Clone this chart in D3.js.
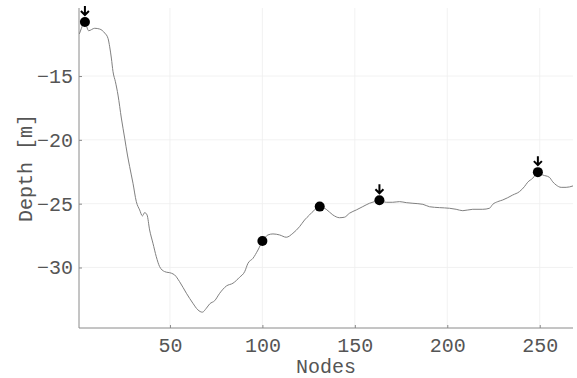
<!DOCTYPE html>
<html>
<head>
<meta charset="utf-8">
<script src="https://cdn.jsdelivr.net/npm/d3@7"></script>
<style>
  html, body { margin: 0; padding: 0; background: #fff; }
  svg text { font-family: "Liberation Mono", "DejaVu Sans Mono", monospace; }
</style>
</head>
<body>
<div id="chart"></div>
<script>
// depth profile along the nodes
const nodes = [1, 2, 3, 4, 6, 9.3, 12, 14.7, 16.5, 17.4, 18.3, 19.2, 20.5, 21.9, 23.7, 25.5, 27, 28.2, 30, 31.8,
  33.6, 35.1, 36.3, 37.6, 39, 40.8, 42.6, 44.4, 47.1, 50.8, 52.5, 55.2, 58.9, 62.4, 65.1, 67.5, 69.7, 71.5,
  74.2, 76.9, 80.5, 84.1, 87.7, 90.4, 92.2, 94.9, 97.6, 100, 103, 105.7, 109.3, 112.9, 116.5, 120.1, 122.8,
  125.5, 128.2, 131, 134.5, 138.1, 141.7, 144.4, 147.1, 150.8, 154.3, 157.9, 160.6, 163.3, 167, 170.5, 174.2,
  177.8, 181.4, 186.8, 190.4, 195.8, 201.2, 204.8, 208.4, 213.8, 219.2, 222.8, 224.6, 227.3, 230, 232.7,
  235.4, 239, 241.7, 243.5, 246.2, 249, 251.6, 255.2, 257, 258.9, 261.6, 264.3, 268];
const depth = [-11.7, -11.3, -10.95, -10.8, -11.45, -11.26, -11.32, -11.63, -12.05, -12.71, -13.59, -14.66, -15.45,
  -16.49, -18.29, -19.86, -21.19, -22.1, -23.4, -24.84, -25.49, -25.96, -25.7, -25.88, -27.06, -28.1, -29.15,
  -29.93, -30.32, -30.45, -30.58, -31.11, -32.02, -32.8, -33.32, -33.5, -33.19, -32.85, -32.6, -32.02, -31.45,
  -31.23, -30.76, -30.33, -29.67, -29.28, -28.63, -27.95, -27.45, -27.37, -27.45, -27.63, -27.32, -26.8,
  -26.28, -25.88, -25.49, -25.23, -25.44, -25.88, -26.1, -26.06, -25.75, -25.49, -25.23, -24.97, -24.84,
  -24.76, -24.89, -24.89, -24.84, -24.92, -24.97, -25.05, -25.24, -25.31, -25.36, -25.44, -25.55, -25.44,
  -25.44, -25.36, -25.05, -24.84, -24.71, -24.53, -24.32, -24.06, -23.67, -23.32, -23.01, -22.55, -22.75,
  -22.93, -23.28, -23.54, -23.72, -23.72, -23.61];

// highlighted points, arrow = marked with a downward arrow
const markNodes = [4, 100, 131, 163.3, 249];
const markDepth = [-10.77, -27.92, -25.23, -24.73, -22.53];
const markArrow = [true, false, false, true, true];

const xTicks = [50, 100, 150, 200, 250];
const yTicks = [-15, -20, -25, -30];

const W = 577, H = 378;
const margin = { LEFT: 79, RIGHT: 4, TOP: 8, BOTTOM: 50 };
const WIDTH = W - margin.LEFT - margin.RIGHT;
const HEIGHT = H - margin.TOP - margin.BOTTOM;

const svg = d3.select('#chart').append('svg')
  .attr('width', W)
  .attr('height', H);

const g = svg.append('g')
  .attr('transform', `translate(${margin.LEFT}, ${margin.TOP})`);

const x = d3.scaleLinear().domain([0.8, 268]).range([0, WIDTH]);
const y = d3.scaleLinear().domain([-34.74, -9.67]).range([HEIGHT, 0]);

// grid
g.append('g').selectAll('line.vg').data(xTicks).join('line')
  .attr('x1', d => x(d)).attr('x2', d => x(d))
  .attr('y1', 0).attr('y2', HEIGHT)
  .attr('stroke', '#efefef').attr('stroke-width', 0.8);
g.append('g').selectAll('line.hg').data(yTicks).join('line')
  .attr('x1', 0).attr('x2', WIDTH)
  .attr('y1', d => y(d)).attr('y2', d => y(d))
  .attr('stroke', '#efefef').attr('stroke-width', 0.8);

// axes
const fmt = d3.format('d');
const xAxis = g.append('g')
  .attr('transform', `translate(0, ${HEIGHT})`)
  .call(d3.axisBottom(x).tickValues(xTicks).tickSize(-3).tickPadding(10).tickFormat(fmt));
const yAxis = g.append('g')
  .call(d3.axisLeft(y).tickValues(yTicks).tickSize(-3).tickPadding(6).tickFormat(fmt));

[xAxis, yAxis].forEach(a => {
  a.select('.domain').attr('stroke', '#8a8a8a');
  a.selectAll('.tick line').attr('stroke', '#8a8a8a');
  a.selectAll('.tick text')
    .attr('fill', '#555')
    .attr('font-size', '20px')
    .attr('font-family', '"Liberation Mono", monospace');
});
xAxis.select('.domain').attr('d', `M0,0H${WIDTH}`);
yAxis.select('.domain').attr('d', `M0,${HEIGHT}V0`);

// labels
g.append('text')
  .attr('x', WIDTH / 2)
  .attr('y', HEIGHT + 45)
  .attr('text-anchor', 'middle')
  .attr('font-size', '20px')
  .attr('fill', '#555')
  .text('Nodes');

g.append('text')
  .attr('transform', `translate(${-47}, ${HEIGHT / 2}) rotate(-90)`)
  .attr('text-anchor', 'middle')
  .attr('font-size', '20px')
  .attr('fill', '#555')
  .text('Depth [m]');

// profile line
const line = d3.line()
  .x((d, i) => x(nodes[i]))
  .y(d => y(d))
  .curve(d3.curveMonotoneX);

g.append('path')
  .attr('d', line(depth))
  .attr('fill', 'none')
  .attr('stroke', '#808080')
  .attr('stroke-width', 1);

// markers
const marks = markNodes.map((n, i) => ({ n, d: markDepth[i], arrow: markArrow[i] }));

g.selectAll('circle.mark').data(marks).join('circle')
  .attr('class', 'mark')
  .attr('cx', d => x(d.n))
  .attr('cy', d => y(d.d))
  .attr('r', 5)
  .attr('fill', '#000');

g.selectAll('path.arrow').data(marks.filter(d => d.arrow)).join('path')
  .attr('class', 'arrow')
  .attr('d', d => {
    const cx = x(d.n), cy = y(d.d);
    return `M${cx},${cy - 16}V${cy - 7}M${cx - 4},${cy - 11}L${cx},${cy - 7}L${cx + 4},${cy - 11}`;
  })
  .attr('fill', 'none')
  .attr('stroke', '#000')
  .attr('stroke-width', 2);
</script>
</body>
</html>
